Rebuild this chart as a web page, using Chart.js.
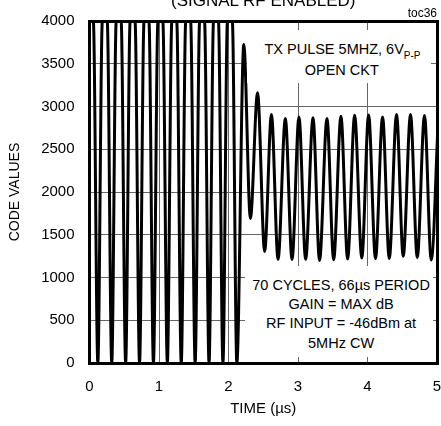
<!DOCTYPE html>
<html>
<head>
<meta charset="utf-8">
<script src="https://cdn.jsdelivr.net/npm/chart.js@4.4.1/dist/chart.umd.min.js"></script>
<style>
  html, body { margin: 0; padding: 0; background: #fff; }
  #wrap { width: 441px; height: 426px; position: relative; overflow: hidden; }
  #scope-chart { display: block; }
  .ov { position: absolute; white-space: nowrap; color: #000; font-family: 'Liberation Sans', Arial, sans-serif; line-height: 1; }
  .note { font-size: 14.5px; transform: translate(-50%, -50%); }
  .sub { font-size: 10px; position: relative; top: 5px; line-height: 0; }
  .box { position: absolute; background: #fff; }
  .frame { position: absolute; border: 3px solid #000; }
</style>
</head>
<body>
<div id="wrap"><canvas id="scope-chart" width="441" height="426"></canvas></div>
<script>
// ADC output vs time (saturated burst, then ringing)
var timeUs = [
  0, 0.055, 0.12, 0.185, 0.255, 0.32, 0.385, 0.455, 0.52, 0.585, 0.655,
  0.72, 0.785, 0.855, 0.92, 0.985, 1.055, 1.12, 1.185, 1.255, 1.32, 1.385,
  1.455, 1.52, 1.585, 1.655, 1.72, 1.785, 1.855, 1.92, 1.985, 2.055, 2.12,
  2.22, 2.315, 2.418, 2.52, 2.618, 2.713, 2.818, 2.914, 3.014, 3.11,
  3.216, 3.31, 3.417, 3.513, 3.618, 3.714, 3.815, 3.918, 4.016, 4.115,
  4.217, 4.313, 4.418, 4.514, 4.619, 4.716, 4.82, 4.917, 5.02
];
var codeValues = [
  4000, 4000, 0, 4000, 4000, 0, 4000, 4000, 0, 4000, 4000,
  0, 4000, 4000, 0, 4000, 4000, 0, 4000, 4000, 0, 4000,
  4000, 0, 4000, 4000, 0, 4000, 4000, 0, 4000, 4000, 0,
  3725, 1690, 3160, 1305, 2906, 1212, 2859, 1210, 2878, 1212,
  2867, 1200, 2859, 1208, 2887, 1215, 2898, 1228, 2902, 1220,
  2878, 1222, 2906, 1250, 2906, 1235, 2895, 1205, 2890
];
var xTicks = [0, 1, 2, 3, 4, 5];
var yTicks = [0, 500, 1000, 1500, 2000, 2500, 3000, 3500, 4000];

var titleText = '(SIGNAL RF ENABLED)';
var figTag = 'toc36';
var topNote = ['TX PULSE 5MHZ, 6V', 'P-P', 'OPEN CKT'];
var bottomNote = ['70 CYCLES, 66\u00b5s PERIOD', 'GAIN = MAX dB', 'RF INPUT = -46dBm at', '5MHz CW'];

var FONT = "'Liberation Sans', Arial, sans-serif";
var points = timeUs.map(function (t, i) { return { x: t, y: codeValues[i] }; });

var chart = new Chart(document.getElementById('scope-chart'), {
  type: 'line',
  data: {
    datasets: [{
      data: points,
      borderColor: '#000',
      borderWidth: 3,
      pointRadius: 0,
      fill: false,
      cubicInterpolationMode: 'monotone'
    }]
  },
  options: {
    responsive: false,
    animation: false,
    layout: { padding: { left: 0, right: 4, top: 21, bottom: 4 } },
    plugins: { legend: { display: false }, tooltip: { enabled: false } },
    scales: {
      x: {
        type: 'linear',
        min: 0, max: 5,
        afterBuildTicks: function (s) { s.ticks = xTicks.map(function (v) { return { value: v }; }); },
        afterFit: function (s) { s.height = 59; s.paddingLeft = 0; s.paddingRight = 0; },
        ticks: { color: '#000', font: { family: FONT, size: 15 }, padding: 15, maxRotation: 0,
          callback: function (v) { return String(v); } },
        grid: { color: '#666', lineWidth: 1, drawTicks: false },
        border: { display: false },
        title: { display: true, text: 'TIME (\u00b5s)', color: '#000', font: { family: FONT, size: 15 }, padding: { top: 0, bottom: 4 } }
      },
      y: {
        min: 0, max: 4000,
        afterBuildTicks: function (s) { s.ticks = yTicks.map(function (v) { return { value: v }; }); },
        afterFit: function (s) { s.width = 89.5; s.paddingTop = 0; s.paddingBottom = 0; },
        ticks: { color: '#000', font: { family: FONT, size: 15 }, padding: 15,
          callback: function (v) { return String(v); } },
        grid: { color: '#666', lineWidth: 1, drawTicks: false },
        border: { display: false },
        title: { display: true, text: 'CODE VALUES', color: '#000', font: { family: FONT, size: 14 }, padding: { top: 7, bottom: 0 } }
      }
    }
  }
});

// overlays: white note boxes, note text, plot frame, cut-off title, tag
var wrap = document.getElementById('wrap');
var xs = chart.scales.x, ys = chart.scales.y, a = chart.chartArea;

function addEl(cls, css, html) {
  var d = document.createElement('div');
  d.className = cls;
  for (var k in css) d.style[k] = css[k];
  if (html) d.innerHTML = html;
  wrap.appendChild(d);
  return d;
}

[[2.26, 4.91, 3270, 3900], [2.24, 4.94, 70, 1135]].forEach(function (b) {
  var l = xs.getPixelForValue(b[0]), r = xs.getPixelForValue(b[1]);
  var t = ys.getPixelForValue(b[3]), btm = ys.getPixelForValue(b[2]);
  addEl('box', { left: l + 'px', top: t + 'px', width: (r - l) + 'px', height: (btm - t) + 'px' });
});

addEl('ov note', { left: xs.getPixelForValue(3.64) + 'px', top: ys.getPixelForValue(3674) + 'px' },
  topNote[0] + '<span class="sub">' + topNote[1] + '</span>');
addEl('ov note', { left: xs.getPixelForValue(3.63) + 'px', top: ys.getPixelForValue(3428) + 'px' }).textContent = topNote[2];

[918, 690, 462, 234].forEach(function (v, i) {
  addEl('ov note', { left: xs.getPixelForValue(3.62) + 'px', top: ys.getPixelForValue(v) + 'px' }).textContent = bottomNote[i];
});

addEl('frame', { left: (a.left - 1.5) + 'px', top: (a.top - 1.5) + 'px', width: (a.right - a.left - 3) + 'px', height: (a.bottom - a.top - 3) + 'px' });

addEl('ov', { left: '0px', width: (a.left + a.right) + 'px', textAlign: 'center', top: '-8.4px', fontSize: '17px' }).textContent = titleText;
addEl('ov', { right: (441 - a.right) + 'px', top: '7px', fontSize: '12px' }).textContent = figTag;
</script>
</body>
</html>
